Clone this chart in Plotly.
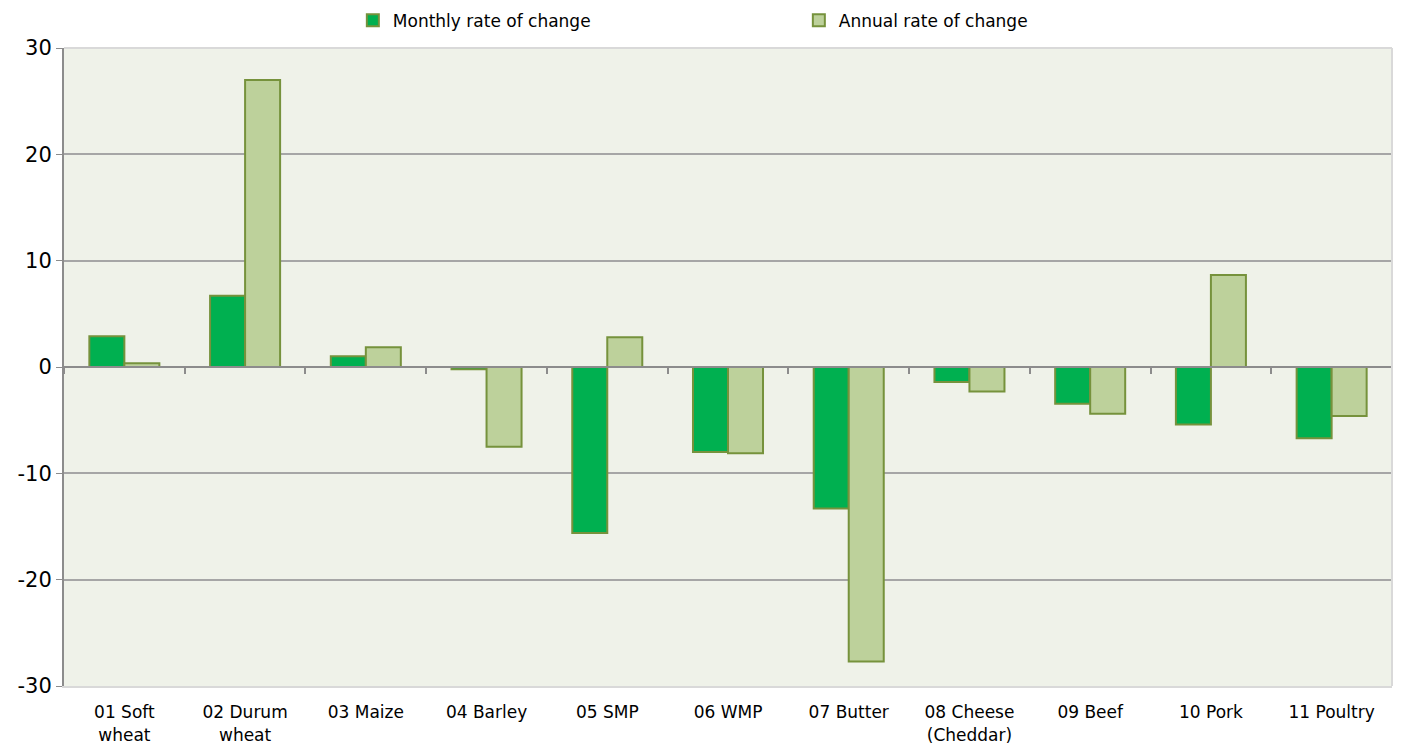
import plotly.graph_objects as go

categories = ["01 Soft<br>wheat", "02 Durum<br>wheat", "03 Maize", "04 Barley", "05 SMP",
              "06 WMP", "07 Butter", "08 Cheese<br>(Cheddar)", "09 Beef", "10 Pork", "11 Poultry"]
monthly = [2.9, 6.7, 1.0, -0.2, -15.6, -8.0, -13.3, -1.4, -3.45, -5.4, -6.7]
annual = [0.35, 27.0, 1.85, -7.5, 2.8, -8.1, -27.7, -2.3, -4.4, 8.65, -4.6]
y_ticks = [-30, -20, -10, 0, 10, 20, 30]

font = "DejaVu Sans, Verdana, sans-serif"
outline = "#76923C"

fig = go.Figure()
fig.add_trace(go.Bar(
    x=categories, y=monthly, name="Monthly rate of change",
    marker=dict(color="#00B050", line=dict(color=outline, width=2)),
))
fig.add_trace(go.Bar(
    x=categories, y=annual, name="Annual rate of change",
    marker=dict(color="#BDD19B", line=dict(color=outline, width=2)),
))
# invisible helper trace so the overlay axis (tick marks on the zero line) is drawn
fig.add_trace(go.Bar(x=categories, y=[0] * len(categories), xaxis="x2",
                     showlegend=False, marker_color="rgba(0,0,0,0)", hoverinfo="skip"))

# page body adds 8px, so the figure is 16px smaller than the window
fig.update_layout(
    width=1387, height=735,
    margin=dict(l=56, r=3, t=40, b=57, autoexpand=False),
    paper_bgcolor="white",
    plot_bgcolor="#EFF2E9",
    barmode="group",
    bargap=0.42,
    bargroupgap=0,
    font=dict(family=font, size=16, color="#000000"),
    legend=dict(
        orientation="h", x=0.2175, xanchor="left",
        y=1.071, yanchor="top",
        entrywidth=401, font=dict(size=17),
        itemwidth=30, traceorder="normal",
    ),
    xaxis=dict(
        showline=True, linecolor="#D9D9D9", linewidth=2, mirror=False,
        ticks="", tickfont=dict(size=17), showgrid=False,
        ticklabelstandoff=10,
    ),
    xaxis2=dict(
        overlaying="x", anchor="free", position=0.5, side="bottom",
        showline=True, linecolor="#8C8C8C", linewidth=2,
        ticks="outside", tickson="boundaries", ticklen=6, tickwidth=2,
        tickcolor="#8C8C8C", showticklabels=False, showgrid=False,
        matches="x",
    ),
    yaxis=dict(
        range=[-30, 30], tickvals=y_ticks, ticktext=[str(v) for v in y_ticks],
        showline=True, linecolor="#8C8C8C", linewidth=2,
        ticks="outside", ticklen=6, tickwidth=1, tickcolor="#8C8C8C",
        gridcolor="#A6A6A6", gridwidth=2,
        zeroline=False, tickfont=dict(size=21),
    ),
)
fig.update_layout(shapes=[dict(type="line", xref="paper", yref="paper", x0=1, x1=1, y0=0, y1=1,
                               line=dict(color="#D9D9D9", width=2)),
                          dict(type="line", xref="paper", yref="paper", x0=0, x1=1, y0=1, y1=1,
                               line=dict(color="#D9D9D9", width=2))])

fig.write_html("out.html")
